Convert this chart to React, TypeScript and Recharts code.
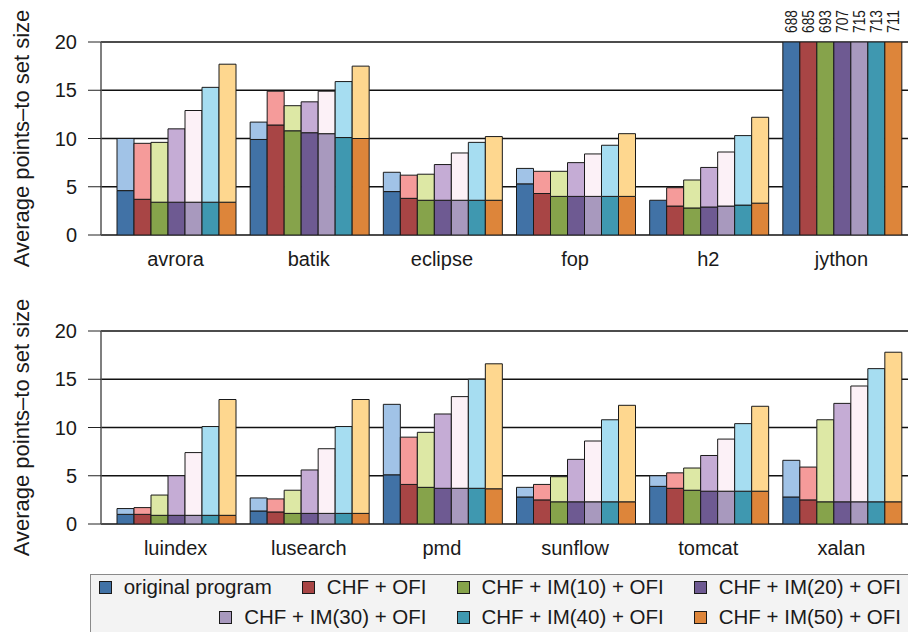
import React from 'react'
import { Bar, BarChart, CartesianGrid, LabelList, XAxis, YAxis } from 'recharts'

const seriesNames = [
  'original program',
  'CHF + OFI',
  'CHF + IM(10) + OFI',
  'CHF + IM(20) + OFI',
  'CHF + IM(30) + OFI',
  'CHF + IM(40) + OFI',
  'CHF + IM(50) + OFI',
]
const darkColors = ['#4172a6', '#a84545', '#86a34b', '#6e5a92', '#a899be', '#3f98b0', '#dd853a']
const lightColors = ['#a1c3e7', '#f59b9a', '#dde8a5', '#c5acd5', '#fcf1f7', '#a6ddf1', '#fed78f']

const topBenchmarks = ['avrora', 'batik', 'eclipse', 'fop', 'h2', 'jython']
const bottomBenchmarks = ['luindex', 'lusearch', 'pmd', 'sunflow', 'tomcat', 'xalan']

// whole bar (pale top) and the dark base part, one value per configuration
const avroraTotal = [10.0, 9.5, 9.6, 11.0, 12.9, 15.3, 17.7]
const avroraBase = [4.6, 3.7, 3.4, 3.4, 3.4, 3.4, 3.4]
const batikTotal = [11.7, 14.9, 13.4, 13.8, 14.9, 15.9, 17.5]
const batikBase = [9.9, 11.4, 10.8, 10.6, 10.5, 10.1, 10.0]
const eclipseTotal = [6.5, 6.2, 6.3, 7.3, 8.5, 9.6, 10.2]
const eclipseBase = [4.5, 3.8, 3.6, 3.6, 3.6, 3.6, 3.6]
const fopTotal = [6.9, 6.6, 6.6, 7.5, 8.4, 9.3, 10.5]
const fopBase = [5.3, 4.3, 4.0, 4.0, 4.0, 4.0, 4.0]
const h2Total = [3.6, 4.9, 5.7, 7.0, 8.6, 10.3, 12.2]
const h2Base = [3.6, 3.0, 2.8, 2.9, 3.0, 3.1, 3.3]
const jythonTotal = [688, 685, 693, 707, 715, 713, 711]
const jythonBase = [688, 685, 693, 707, 715, 713, 711]

const luindexTotal = [1.6, 1.7, 3.0, 5.0, 7.4, 10.1, 12.9]
const luindexBase = [1.0, 1.0, 0.9, 0.9, 0.9, 0.9, 0.9]
const lusearchTotal = [2.7, 2.6, 3.5, 5.6, 7.8, 10.1, 12.9]
const lusearchBase = [1.35, 1.25, 1.1, 1.1, 1.1, 1.1, 1.1]
const pmdTotal = [12.4, 9.0, 9.5, 11.4, 13.2, 15.0, 16.6]
const pmdBase = [5.1, 4.1, 3.8, 3.7, 3.7, 3.7, 3.65]
const sunflowTotal = [3.8, 4.1, 4.9, 6.7, 8.6, 10.8, 12.3]
const sunflowBase = [2.8, 2.5, 2.3, 2.3, 2.3, 2.3, 2.3]
const tomcatTotal = [5.0, 5.3, 5.8, 7.1, 8.8, 10.4, 12.2]
const tomcatBase = [3.9, 3.7, 3.5, 3.4, 3.4, 3.4, 3.4]
const xalanTotal = [6.6, 5.9, 10.8, 12.5, 14.3, 16.1, 17.8]
const xalanBase = [2.8, 2.5, 2.3, 2.3, 2.3, 2.3, 2.3]

const topTotals = [avroraTotal, batikTotal, eclipseTotal, fopTotal, h2Total, jythonTotal]
const topBases = [avroraBase, batikBase, eclipseBase, fopBase, h2Base, jythonBase]
const bottomTotals = [luindexTotal, lusearchTotal, pmdTotal, sunflowTotal, tomcatTotal, xalanTotal]
const bottomBases = [luindexBase, lusearchBase, pmdBase, sunflowBase, tomcatBase, xalanBase]

const yTicks = [0, 5, 10, 15, 20]
const Y_MAX = 20

const W = 908
const H = 300
const MARGIN = { top: 42, right: 0, bottom: 25, left: 0 }
const FONT = '"Liberation Sans", Arial, Helvetica, sans-serif'
const INK = '#1a1a1a'

// numbers printed above bars that run off the top of the axis
function OverflowLabel(props: any) {
  const { value } = props
  if (value == null || value <= Y_MAX) return null
  const vb = props.viewBox ?? props
  const cx = vb.x + vb.width / 2
  const y = MARGIN.top - 9
  return (
    <text
      x={cx}
      y={y}
      transform={`rotate(-90 ${cx} ${y})`}
      dominantBaseline="central"
      fontSize={16}
      textLength={23}
      lengthAdjust="spacingAndGlyphs"
      fill={INK}
    >
      {value}
    </text>
  )
}

function AxisTitle(props: any) {
  const vb = props.viewBox ?? { y: MARGIN.top, height: H - MARGIN.top - MARGIN.bottom - 40 }
  const x = 21
  const y = vb.y + vb.height / 2
  return (
    <text x={x} y={y} transform={`rotate(-90 ${x} ${y})`} textAnchor="middle" dominantBaseline="central" fontSize={22} fill={INK}>
      Average points–to set size
    </text>
  )
}

function Panel({ names, totals, bases }: { names: string[]; totals: number[][]; bases: number[][] }) {
  const data = names.map((name, c) => {
    const row: Record<string, string | number> = { name }
    totals[c].forEach((t, i) => {
      row[`t${i}`] = t
      row[`d${i}`] = bases[c][i]
      row[`l${i}`] = +(t - bases[c][i]).toFixed(2)
    })
    return row
  })

  return (
    <BarChart width={W} height={H} data={data} margin={MARGIN} barGap={0} barCategoryGap={8}>
      <CartesianGrid vertical={false} stroke="#111" strokeWidth={1.3} />
      <XAxis
        dataKey="name"
        axisLine={false}
        tickLine={false}
        tickSize={0}
        tickMargin={17}
        height={40}
        interval={0}
        padding={{ left: 8, right: 0 }}
        tick={{ fontSize: 20, fill: INK }}
      />
      <YAxis
        domain={[0, Y_MAX]}
        ticks={yTicks}
        allowDataOverflow
        width={101}
        tickSize={13}
        tickMargin={11}
        axisLine={{ stroke: '#555', strokeWidth: 1.5 }}
        tickLine={{ stroke: '#222' }}
        tick={{ fontSize: 20, fill: INK }}
        label={<AxisTitle />}
      />
      {seriesNames.flatMap((s, i) => [
        <Bar
          key={`d${i}`}
          dataKey={`d${i}`}
          stackId={`s${i}`}
          name={s}
          fill={darkColors[i]}
          stroke={INK}
          strokeWidth={1}
          isAnimationActive={false}
        >
          <LabelList dataKey={`t${i}`} content={OverflowLabel} />
        </Bar>,
        <Bar
          key={`l${i}`}
          dataKey={`l${i}`}
          stackId={`s${i}`}
          name={s}
          fill={lightColors[i]}
          stroke={INK}
          strokeWidth={1}
          isAnimationActive={false}
        />,
      ])}
    </BarChart>
  )
}

function LegendRow({ items, top }: { items: number[]; top: number }) {
  return (
    <div
      style={{
        position: 'absolute',
        left: 0,
        top,
        width: 810,
        height: 28,
        display: 'flex',
        justifyContent: 'flex-end',
        alignItems: 'center',
        gap: 30,
      }}
    >
      {items.map((i) => (
        <div key={i} style={{ display: 'flex', alignItems: 'center', whiteSpace: 'nowrap' }}>
          <span
            style={{
              width: 13,
              height: 13,
              boxSizing: 'border-box',
              border: `1px solid ${INK}`,
              background: darkColors[i],
              marginRight: 12,
            }}
          />
          <span style={{ fontSize: 20.5, lineHeight: '28px' }}>{seriesNames[i]}</span>
        </div>
      ))}
    </div>
  )
}

export default function App() {
  return (
    <div
      style={{
        position: 'absolute',
        left: 0,
        top: 0,
        width: W,
        height: 632,
        background: '#fff',
        fontFamily: FONT,
        color: INK,
        overflow: 'hidden',
      }}
    >
      <div style={{ position: 'absolute', left: 0, top: 0 }}>
        <Panel names={topBenchmarks} totals={topTotals} bases={topBases} />
      </div>
      <div style={{ position: 'absolute', left: 0, top: 289 }}>
        <Panel names={bottomBenchmarks} totals={bottomTotals} bases={bottomBases} />
      </div>
      <div
        style={{
          position: 'absolute',
          left: 90,
          top: 574,
          width: 830,
          height: 70,
          boxSizing: 'border-box',
          background: '#f3f3f3',
          border: '1px solid #8a8a8a',
        }}
      >
        <LegendRow items={[0, 1, 2, 3]} top={-2} />
        <LegendRow items={[4, 5, 6]} top={28} />
      </div>
    </div>
  )
}
